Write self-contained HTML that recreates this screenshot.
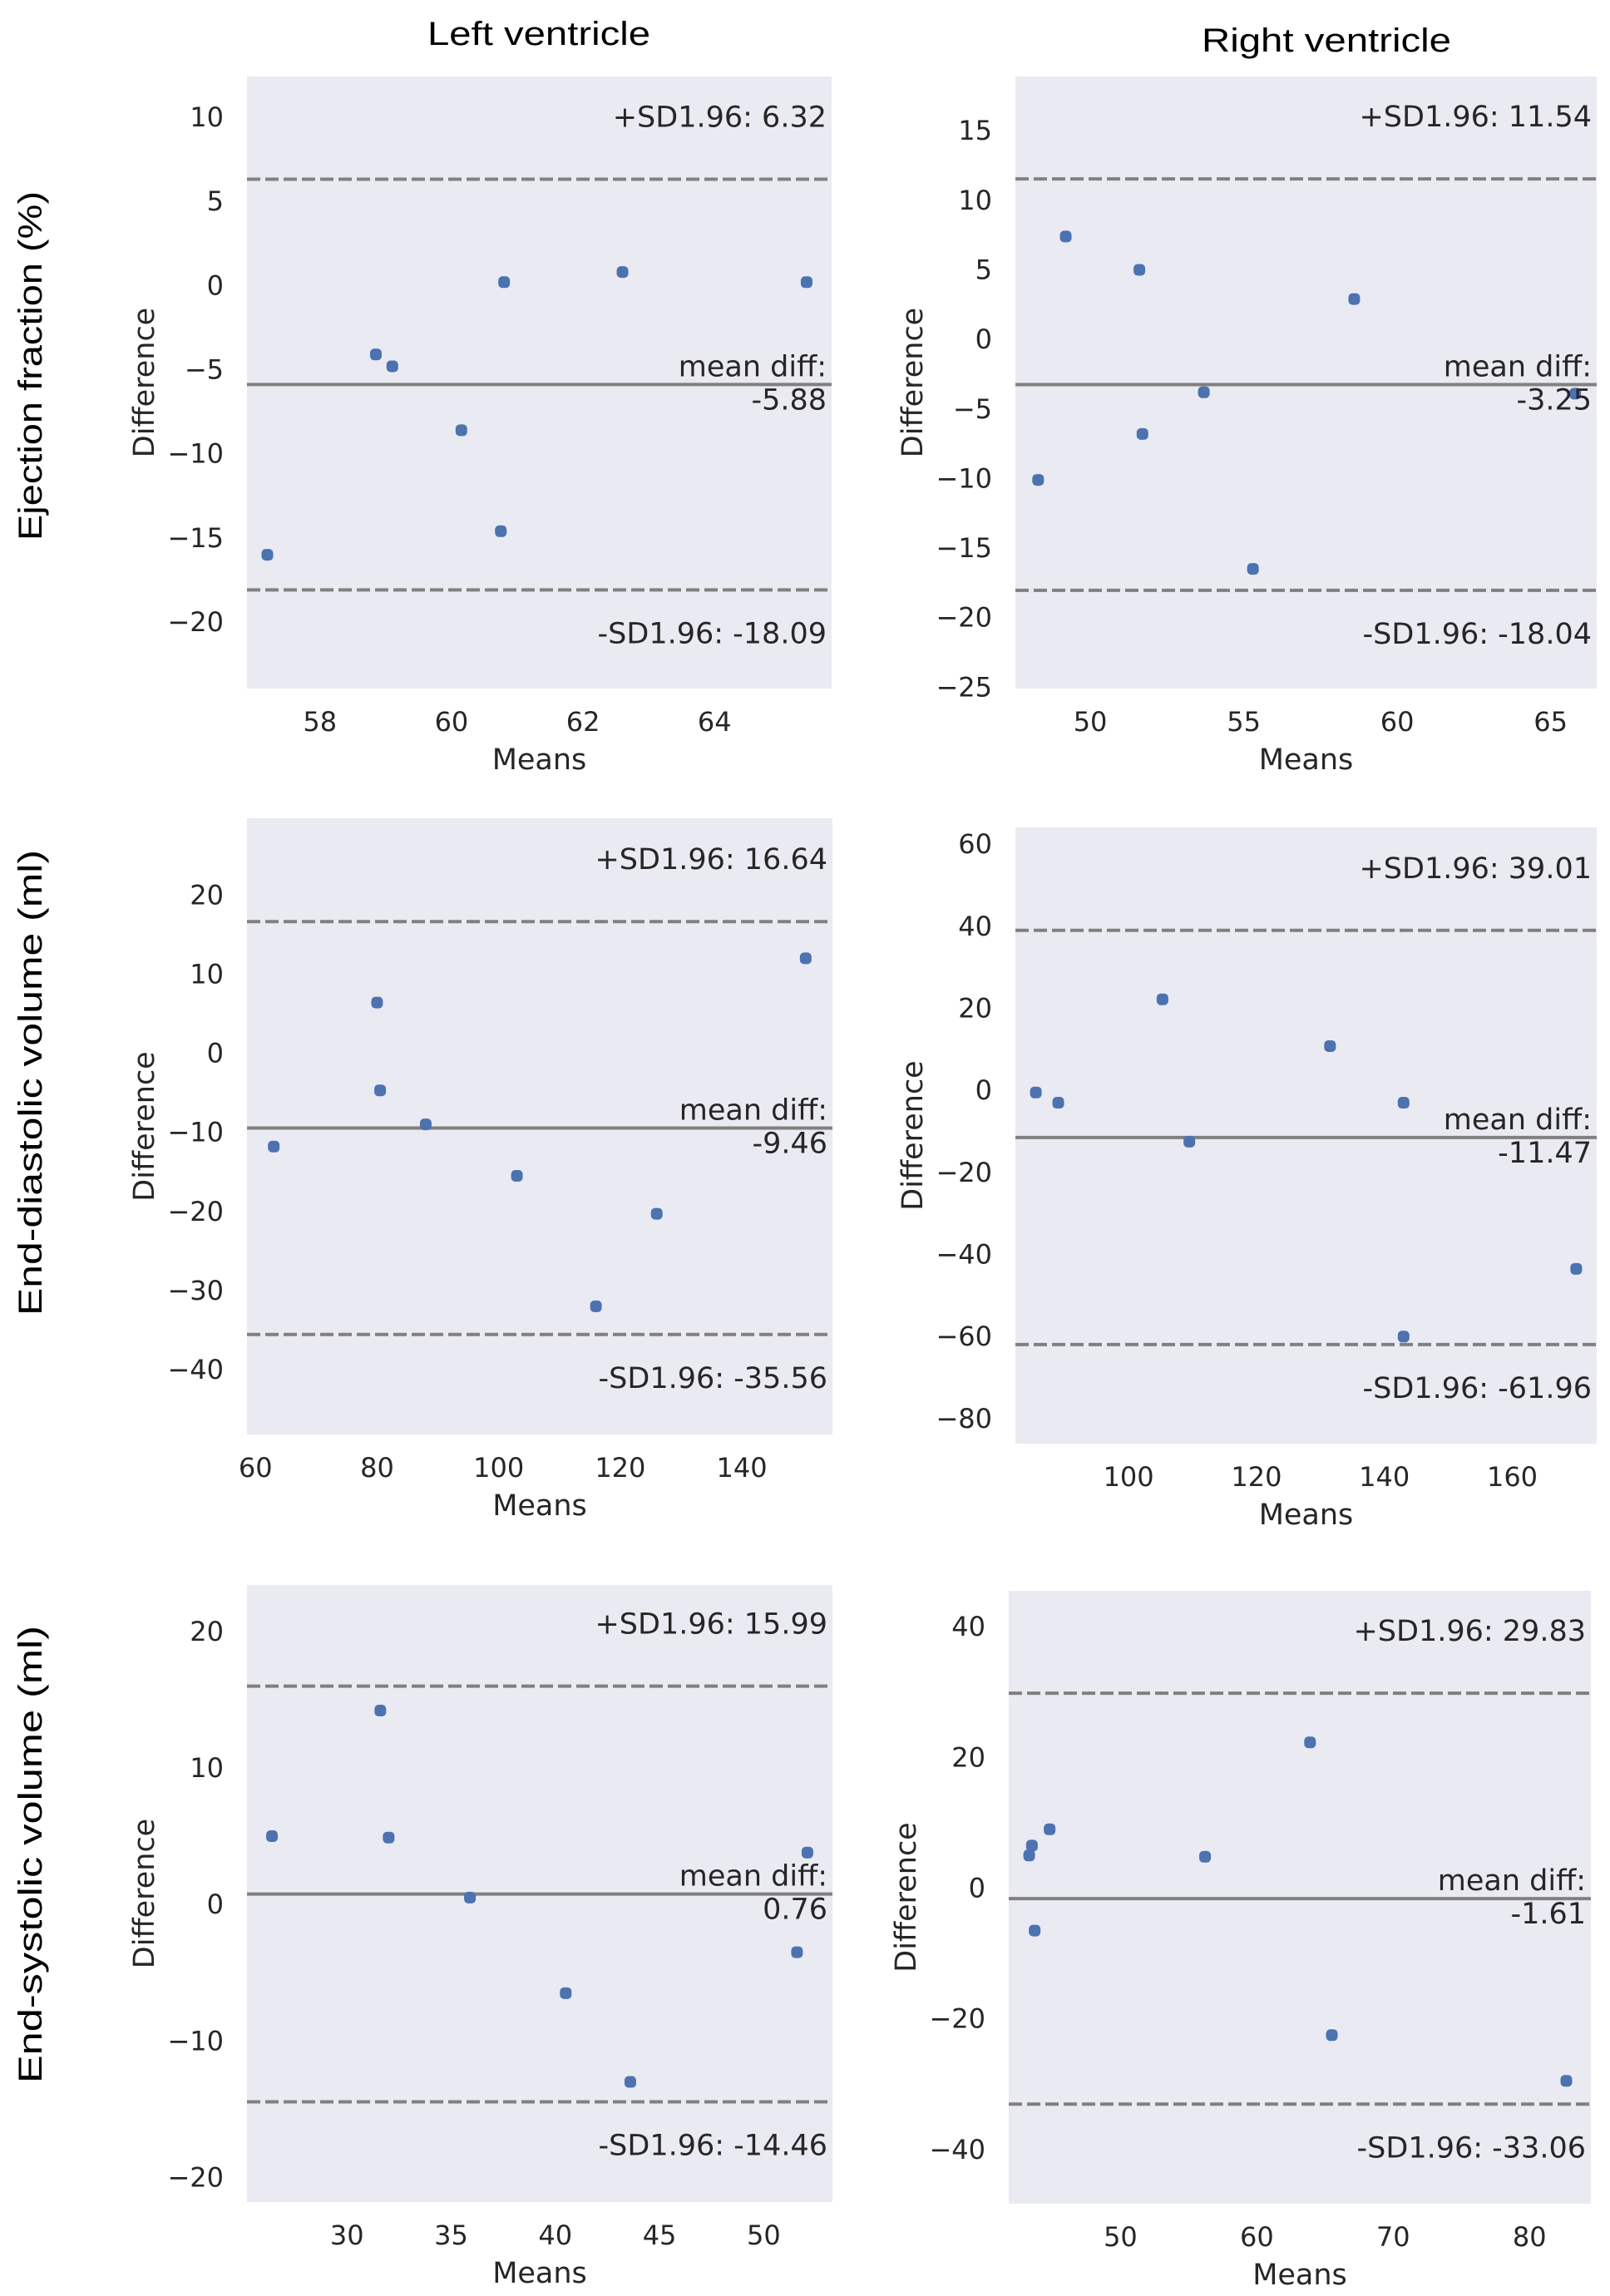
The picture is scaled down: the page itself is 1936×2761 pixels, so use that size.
<!DOCTYPE html>
<html><head><meta charset="utf-8">
<style>
html,body{margin:0;padding:0;background:#fff;}
svg{display:block;}
.tk{font-family:"DejaVu Sans","Liberation Sans",sans-serif;font-size:32px;fill:#262626;}
.lab{font-family:"DejaVu Sans","Liberation Sans",sans-serif;font-size:35px;fill:#262626;}
.ann{font-family:"DejaVu Sans","Liberation Sans",sans-serif;font-size:35px;fill:#262626;}
.ttl{font-family:"Liberation Sans",sans-serif;font-size:40px;fill:#000;}
</style></head>
<body>
<svg id="fig" width="1936" height="2761" viewBox="0 0 1936 2761" xmlns="http://www.w3.org/2000/svg">
<text class="ttl" x="648" y="54" text-anchor="middle" textLength="268" lengthAdjust="spacingAndGlyphs">Left ventricle</text>
<text class="ttl" x="1595" y="62" text-anchor="middle" textLength="300" lengthAdjust="spacingAndGlyphs">Right ventricle</text>
<text class="ttl" transform="translate(50,440) rotate(-90)" text-anchor="middle" textLength="420" lengthAdjust="spacingAndGlyphs">Ejection fraction (%)</text>
<text class="ttl" transform="translate(50,1302) rotate(-90)" text-anchor="middle" textLength="560" lengthAdjust="spacingAndGlyphs">End-diastolic volume (ml)</text>
<text class="ttl" transform="translate(50,2230) rotate(-90)" text-anchor="middle" textLength="550" lengthAdjust="spacingAndGlyphs">End-systolic volume (ml)</text>
</svg>
<script>
// ---- data ----
const efLvMeans = [57.2, 58.85, 59.1, 60.15, 60.8, 60.75, 62.6, 65.4];
const efLvDiffs = [-16, -4.1, -4.8, -8.6, 0.2, -14.6, 0.8, 0.2];
const efLvStats = [6.32, -5.88, -18.09];
const efLvXTicks = [58, 60, 62, 64];
const efLvYTicks = [10, 5, 0, -5, -10, -15, -20];

const efRvMeans = [48.3, 49.2, 51.6, 51.7, 53.7, 55.3, 58.6, 65.8];
const efRvDiffs = [-10.1, 7.4, 5.0, -6.8, -3.8, -16.5, 2.9, -3.9];
const efRvStats = [11.54, -3.25, -18.04];
const efRvXTicks = [50, 55, 60, 65];
const efRvYTicks = [15, 10, 5, 0, -5, -10, -15, -20, -25];

const edLvMeans = [63, 80, 80.5, 88, 103, 116, 126, 150.5];
const edLvDiffs = [-11.8, 6.4, -4.7, -9, -15.5, -32, -20.3, 12];
const edLvStats = [16.64, -9.46, -35.56];
const edLvXTicks = [60, 80, 100, 120, 140];
const edLvYTicks = [20, 10, 0, -10, -20, -30, -40];

const edRvMeans = [85.5, 89, 105.3, 109.5, 131.5, 143, 143, 170];
const edRvDiffs = [-0.5, -3, 22.2, -12.5, 10.8, -3, -60, -43.5];
const edRvStats = [39.01, -11.47, -61.96];
const edRvXTicks = [100, 120, 140, 160];
const edRvYTicks = [60, 40, 20, 0, -20, -40, -60, -80];

const esLvMeans = [26.4, 31.6, 32, 35.9, 40.5, 43.6, 51.6, 52.1];
const esLvDiffs = [5, 14.2, 4.9, 0.5, -6.5, -13, -3.5, 3.8];
const esLvStats = [15.99, 0.76, -14.46];
const esLvXTicks = [30, 35, 40, 45, 50];
const esLvYTicks = [20, 10, 0, -10, -20];

const esRvMeans = [43.3, 43.5, 43.7, 44.8, 56.2, 63.9, 65.5, 82.7];
const esRvDiffs = [5, 6.5, -6.5, 9, 4.8, 22.3, -22.5, -29.5];
const esRvStats = [29.83, -1.61, -33.06];
const esRvXTicks = [50, 60, 70, 80];
const esRvYTicks = [40, 20, 0, -20, -40];

const NS = 'http://www.w3.org/2000/svg';
const fig = document.getElementById('fig');
function mk(tag, attrs, parent) {
  const e = document.createElementNS(NS, tag);
  for (const k in attrs) e.setAttribute(k, attrs[k]);
  (parent || fig).appendChild(e);
  return e;
}
function fmtTick(v) { return (v < 0 ? '\u2212' + Math.abs(v) : String(v)); }

function panel(id, box, xdom, ydom, means, diffs, stats, xticks, yticks) {
  const g = mk('g', {});
  
  
  const [L, R, T, B] = box;
  const sx = v => L + (v - xdom[0]) / (xdom[1] - xdom[0]) * (R - L);
  const sy = v => B - (v - ydom[0]) / (ydom[1] - ydom[0]) * (B - T);
  const bg = mk('rect', {x: L, y: T, width: R - L, height: B - T, fill: '#eaeaf2'}, g);
  
  
  yticks.forEach(v => {
    const t = mk('text', {x: L - 28, y: sy(v) + 11, 'text-anchor': 'end', class: 'tk'}, g);
    t.textContent = fmtTick(v);
    
    
  });
  xticks.forEach(v => {
    const t = mk('text', {x: sx(v), y: B + 51, 'text-anchor': 'middle', class: 'tk'}, g);
    t.textContent = fmtTick(v);
    
    
  });
  const xl = mk('text', {x: (L + R) / 2, y: B + 97, 'text-anchor': 'middle', class: 'lab'}, g);
  xl.textContent = 'Means';
  
  
  const yl = mk('text', {transform: 'translate(' + (L - 112) + ',' + ((T + B) / 2) + ') rotate(-90)', 'text-anchor': 'middle', class: 'lab'}, g);
  yl.textContent = 'Difference';
  
  
  const yu = sy(stats[0]), ym = sy(stats[1]), yd = sy(stats[2]);
  const lu = mk('line', {x1: L, x2: R, y1: yu, y2: yu, stroke: '#808080', 'stroke-width': 4, 'stroke-dasharray': '16,6'}, g);
  
  
  const lm = mk('line', {x1: L, x2: R, y1: ym, y2: ym, stroke: '#808080', 'stroke-width': 4}, g);
  
  
  const ld = mk('line', {x1: L, x2: R, y1: yd, y2: yd, stroke: '#808080', 'stroke-width': 4, 'stroke-dasharray': '16,6'}, g);
  
  
  means.forEach((m, i) => {
    const p = mk('rect', {x: sx(m) - 7, y: sy(diffs[i]) - 7, width: 14, height: 14, rx: 5, fill: '#4c72b0'}, g);
    
    
  });
  const tx = R - 6;
  const a1 = mk('text', {x: tx, y: yu - 63, 'text-anchor': 'end', class: 'ann'}, g);
  a1.textContent = '+SD1.96: ' + stats[0].toFixed(2);
  
  
  const a2 = mk('text', {x: tx, y: ym - 10, 'text-anchor': 'end', class: 'ann'}, g);
  a2.textContent = 'mean diff:';
  
  
  const a3 = mk('text', {x: tx, y: ym + 30, 'text-anchor': 'end', class: 'ann'}, g);
  a3.textContent = stats[1].toFixed(2);
  
  
  const a4 = mk('text', {x: tx, y: yd + 64, 'text-anchor': 'end', class: 'ann'}, g);
  a4.textContent = '-SD1.96: ' + stats[2].toFixed(2);
  
  
}

panel('ef-lv', [297, 1000, 92, 828], [56.89, 65.78], [-23.95, 12.42], efLvMeans, efLvDiffs, efLvStats, efLvXTicks, efLvYTicks);
panel('ef-rv', [1221, 1920, 92, 828], [47.56, 66.5], [-25.1, 18.9], efRvMeans, efRvDiffs, efRvStats, efRvXTicks, efRvYTicks);
panel('ed-lv', [297, 1001, 984, 1725], [58.6, 154.9], [-48.2, 29.7], edLvMeans, edLvDiffs, edLvStats, edLvXTicks, edLvYTicks);
panel('ed-rv', [1221, 1920, 995, 1736], [82.3, 173.2], [-86.1, 64.1], edRvMeans, edRvDiffs, edRvStats, edRvXTicks, edRvYTicks);
panel('es-lv', [297, 1001, 1906, 2648], [25.2, 53.3], [-21.8, 23.4], esLvMeans, esLvDiffs, esLvStats, esLvXTicks, esLvYTicks);
panel('es-rv', [1213, 1913, 1913, 2650], [41.8, 84.5], [-48.3, 45.5], esRvMeans, esRvDiffs, esRvStats, esRvXTicks, esRvYTicks);
</script>
</body></html>
